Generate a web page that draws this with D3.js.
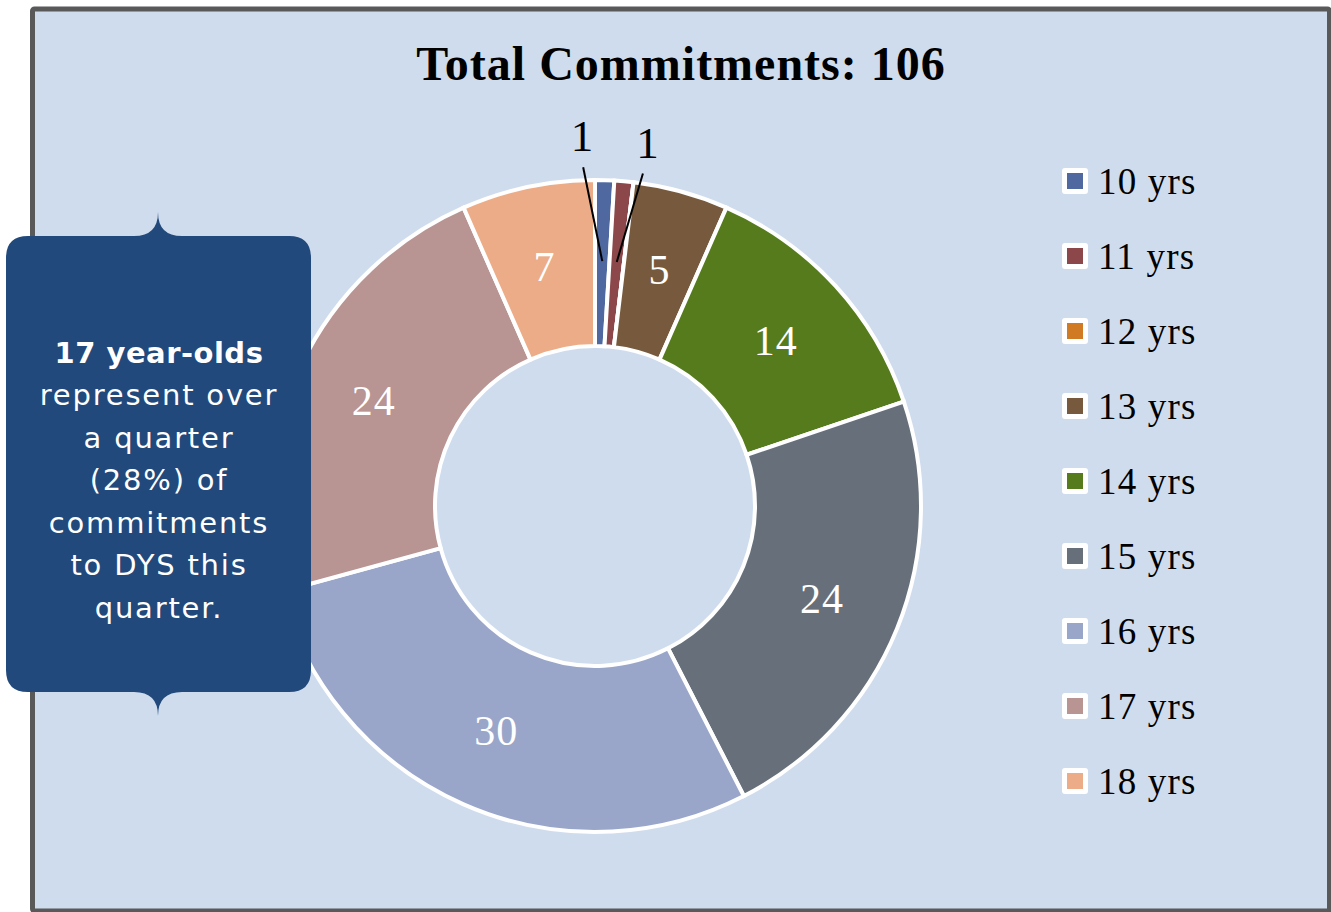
<!DOCTYPE html>
<html><head><meta charset="utf-8">
<script src="https://cdn.jsdelivr.net/npm/d3@7"></script>
<style>html,body{margin:0;padding:0;background:#fff;}svg{display:block;}</style>
</head><body>
<svg id="chart" width="1331" height="912"></svg>
<script>
const categories = ["10 yrs","11 yrs","12 yrs","13 yrs","14 yrs","15 yrs","16 yrs","17 yrs","18 yrs"];
const values = [1,1,0,5,14,24,30,24,7];
const colors = ["#4F68A0","#8B4749","#D07A23","#775A3D","#567B1C","#67707A","#99A6C9","#B89493","#ECAC87"];
const title = "Total Commitments: 106";
const calloutBold = "17 year-olds";
const calloutLines = ["represent over","a quarter","(28%) of","commitments","to DYS this","quarter."];
// outside labels for tiny slices: [index, angle offset deg, label radius]
const outsideLabels = [[0,-2.0,371],[1,8.2,368]];

const svg = d3.select("#chart");
const bg = "#CFDCEE";
svg.append("rect").attr("x",32.5).attr("y",9).attr("width",1297).attr("height",902)
  .attr("rx",2).attr("fill",bg).attr("stroke","#595959").attr("stroke-width",5);

svg.append("text").attr("x",681).attr("y",80).attr("text-anchor","middle")
  .attr("font-family","Liberation Serif, serif").attr("font-weight","bold")
  .attr("font-size",48).attr("letter-spacing",1).attr("fill","#000").text(title);

const cx = 595, cy = 506, R = 326, r = 160;
const g = svg.append("g").attr("transform",`translate(${cx},${cy})`);
const pie = d3.pie().sort(null).value(d=>d.v);
const data = pie(categories.map((c,i)=>({c, v:values[i], i})));
const arc = d3.arc().innerRadius(r).outerRadius(R);
g.selectAll("path.slice").data(data).enter().append("path")
  .attr("class","slice").attr("d",arc)
  .attr("fill",d=>colors[d.data.i]).attr("stroke","#fff").attr("stroke-width",4)
  .attr("stroke-linejoin","miter");

const labelArc = d3.arc().innerRadius((R+r)/2 + 2).outerRadius((R+r)/2 + 2);
const outsideIdx = outsideLabels.map(o=>o[0]);
g.selectAll("text.lbl").data(data.filter(d=>d.data.v>0 && !outsideIdx.includes(d.data.i))).enter()
  .append("text").attr("class","lbl")
  .attr("transform",d=>{const p=labelArc.centroid(d);return `translate(${p[0]},${p[1]})`;})
  .attr("text-anchor","middle").attr("dy","0.35em")
  .attr("font-family","Liberation Serif, serif").attr("font-size",42).attr("letter-spacing",1).attr("fill","#fff")
  .text(d=>d.data.v);

outsideLabels.forEach(([i,ang,lr])=>{
  const d = data[i];
  const a = ang*Math.PI/180;
  const lx = lr*Math.sin(a), ly = -lr*Math.cos(a);
  const p = labelArc.centroid(d);
  const sx = (lr-32)*Math.sin(a), sy = -(lr-32)*Math.cos(a);
  g.append("line").attr("x1",sx).attr("y1",sy).attr("x2",p[0]).attr("y2",p[1])
    .attr("stroke","#000").attr("stroke-width",2);
  g.append("text").attr("x",lx).attr("y",ly).attr("text-anchor","middle").attr("dy","0.35em")
    .attr("font-family","Liberation Serif, serif").attr("font-size",45).attr("fill","#000")
    .text(d.data.v);
});

// legend
const leg = svg.append("g");
categories.forEach((c,i)=>{
  const y = 181 + i*75;
  leg.append("rect").attr("x",1062).attr("y",y-13).attr("width",26).attr("height",26)
    .attr("rx",3).attr("fill","#fff");
  leg.append("rect").attr("x",1067).attr("y",y-8).attr("width",16).attr("height",16)
    .attr("fill",colors[i]);
  leg.append("text").attr("x",1098).attr("y",y).attr("dy","0.35em")
    .attr("font-family","Liberation Serif, serif").attr("font-size",37).attr("letter-spacing",1.2)
    .attr("fill","#000").text(c);
});

// callout
const bx0=6,bx1=311,by0=236,by1=692,rr=22,px=158,n=24,h=24;
const path = `M${bx0+rr},${by0} L${px-n},${by0} Q${px},${by0} ${px},${by0-h} Q${px},${by0} ${px+n},${by0}
 L${bx1-rr},${by0} Q${bx1},${by0} ${bx1},${by0+rr} L${bx1},${by1-rr} Q${bx1},${by1} ${bx1-rr},${by1}
 L${px+n},${by1} Q${px},${by1} ${px},${by1+h} Q${px},${by1} ${px-n},${by1}
 L${bx0+rr},${by1} Q${bx0},${by1} ${bx0},${by1-rr} L${bx0},${by0+rr} Q${bx0},${by0} ${bx0+rr},${by0} Z`;
svg.append("path").attr("d",path).attr("fill","#21497B");
const ct = svg.append("text").attr("text-anchor","middle").attr("font-family","'DejaVu Sans', sans-serif")
  .attr("font-size",29).attr("fill","#fff");
ct.append("tspan").attr("x",159).attr("y",363).attr("font-weight","bold").attr("letter-spacing",0.5).text(calloutBold);
calloutLines.forEach((l,i)=>{
  ct.append("tspan").attr("x",159).attr("y",405+i*42.5).attr("letter-spacing",1.8).text(l);
});
</script>
</body></html>
